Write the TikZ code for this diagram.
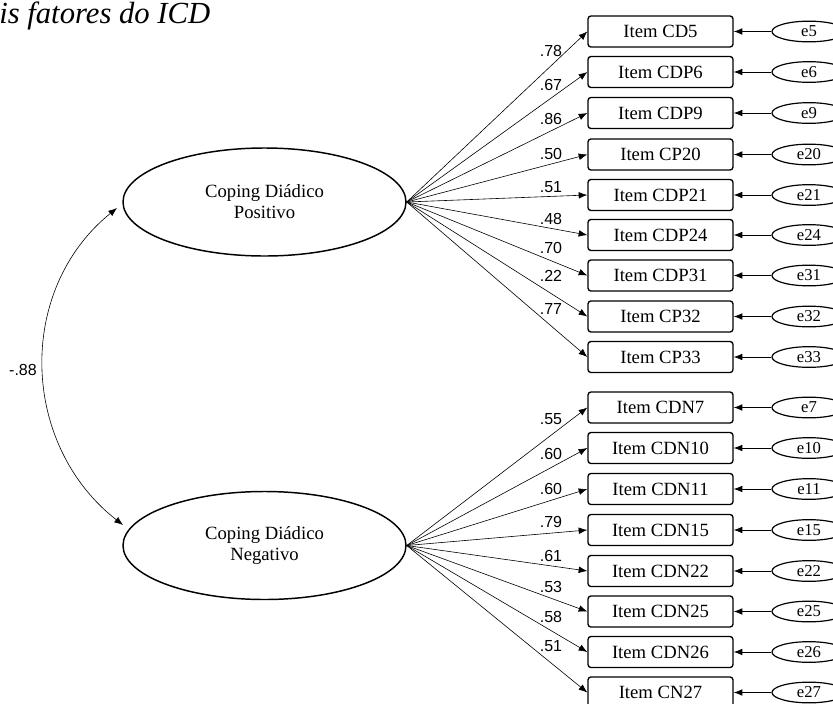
\documentclass[tikz,border=0pt]{standalone}
\usepackage{fontspec}
\setmainfont{Liberation Serif}
\newfontfamily\lblfont{Liberation Sans}
\usetikzlibrary{arrows.meta,shapes.geometric}
\begin{document}
\begin{tikzpicture}[x=0.75pt,y=-0.75pt,
  itembox/.style={draw,rounded corners=2.2pt,line width=1pt,minimum width=108.75pt,minimum height=23.25pt,inner sep=0pt,font=\fontsize{14}{16}\selectfont},
  factor/.style={draw,ellipse,line width=1.1pt,minimum width=212.25pt,minimum height=81pt,inner sep=0pt,align=center,font=\fontsize{14}{15.75}\selectfont},
  errnode/.style={draw,ellipse,line width=0.9pt,minimum width=55.5pt,minimum height=15.5pt,inner sep=0pt,font=\fontsize{12.5}{13}\selectfont},
  load/.style={-{Latex[length=6.5pt,width=5pt]},line width=0.45pt},
  errarrow/.style={-{Latex[length=6.5pt,width=5pt]},line width=0.6pt},
  cov/.style={{Latex[length=6.5pt,width=5pt]}-{Latex[length=6.5pt,width=5pt]},line width=0.45pt},
  lbl/.style={inner sep=0pt,font=\lblfont\fontsize{12}{13}\selectfont},
  titletext/.style={inner sep=0pt,anchor=base west,font=\itshape\fontsize{23}{25}\selectfont}
]
\useasboundingbox (0,0) rectangle (833,704);
\clip (0,0) rectangle (833,704);

\node[titletext] (title) at (-1,23) {is fatores do ICD};

\node[factor] (pos) at (264.5,202) {Coping Diádico\\Positivo};
\node[factor] (neg) at (264.5,545.5) {Coping Diádico\\Negativo};

\foreach \n/\y/\l/\ly/\e in {CD5/31.5/.78/51/e5, CDP6/72/.67/85/e6, CDP9/113/.86/119/e9, CP20/154.5/.50/154/e20, CDP21/195/.51/187/e21, CDP24/235/.48/219/e24, CDP31/275.5/.70/248/e31, CP32/316.5/.22/276/e32, CP33/357/.77/309/e33}{
  \node[itembox] (item\n) at (660.5,\y) {Item \n};
  \node[errnode] (err\n) at (809,\y) {\e};
  \draw[load] (pos.east) -- (item\n.west);
  \draw[errarrow] (err\n.west) -- (item\n.east);
  \node[lbl] (lbl\n) at (551,\ly) {\l};
}

\foreach \n/\y/\l/\ly/\e in {CDN7/407.5/.55/419/e7, CDN10/448/.60/454/e10, CDN11/489/.60/489/e11, CDN15/530/.79/522/e15, CDN22/571/.61/556/e22, CDN25/611.5/.53/587/e25, CDN26/652/.58/617/e26, CN27/692.5/.51/646/e27}{
  \node[itembox] (item\n) at (660.5,\y) {Item \n};
  \node[errnode] (err\n) at (809,\y) {\e};
  \draw[load] (neg.east) -- (item\n.west);
  \draw[errarrow] (err\n.west) -- (item\n.east);
  \node[lbl] (lbl\n) at (551,\ly) {\l};
}

\coordinate (covA) at (117,208);
\coordinate (covB) at (123,525);
\draw[cov] (covA) to[out=219,in=142,looseness=1.05] (covB);
\node[lbl] (covlbl) at (23,370) {-.88};
\end{tikzpicture}
\end{document}
